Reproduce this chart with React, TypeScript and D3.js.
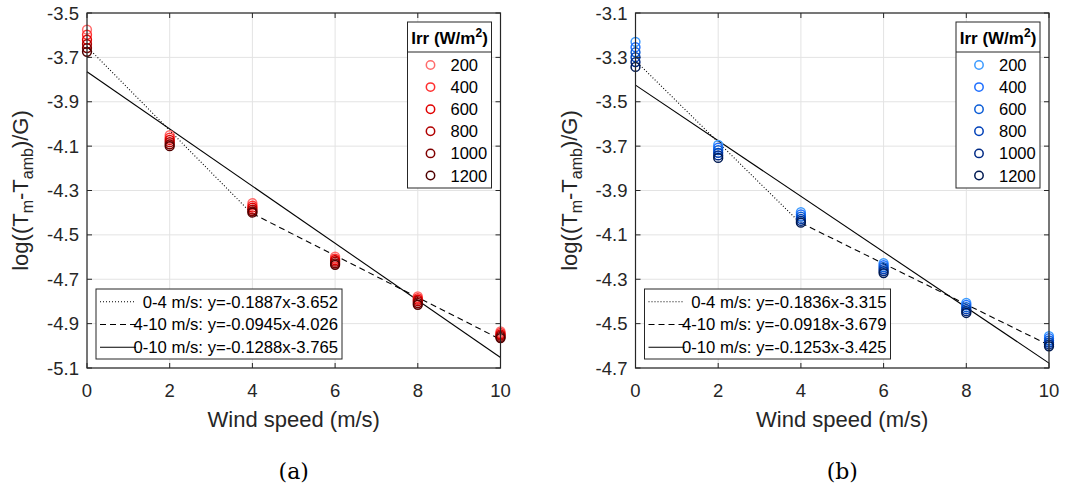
import React from "react";
import * as d3 from "d3";

const windSpeeds = [0, 2, 4, 6, 8, 10];
const irrLevels = ["200", "400", "600", "800", "1000", "1200"];

const redColors = ["#ff6b6b", "#ff3030", "#e00000", "#b00000", "#800000", "#500000"];
const blueColors = ["#3d9bff", "#1f6fff", "#0a5cd6", "#0040b8", "#002a85", "#001a52"];

// values[irr][wind]
const valuesA = [
  [-3.575, -4.05, -4.357, -4.598, -4.777, -4.935],
  [-3.598, -4.062, -4.368, -4.607, -4.785, -4.942],
  [-3.62, -4.072, -4.377, -4.614, -4.792, -4.948],
  [-3.64, -4.082, -4.386, -4.621, -4.799, -4.954],
  [-3.658, -4.092, -4.394, -4.628, -4.807, -4.96],
  [-3.675, -4.1, -4.4, -4.635, -4.815, -4.965],
];
const valuesB = [
  [-3.23, -3.695, -3.998, -4.227, -4.407, -4.556],
  [-3.254, -3.707, -4.008, -4.236, -4.416, -4.566],
  [-3.277, -3.718, -4.018, -4.245, -4.426, -4.576],
  [-3.299, -3.73, -4.028, -4.254, -4.435, -4.585],
  [-3.321, -3.742, -4.037, -4.263, -4.444, -4.594],
  [-3.343, -3.753, -4.045, -4.272, -4.452, -4.602],
];

const fitsA = [
  { label: "0-4 m/s: y=-0.1887x-3.652", slope: -0.1887, icpt: -3.652, x0: 0, x1: 4, dash: "1,2" },
  { label: "4-10 m/s: y=-0.0945x-4.026", slope: -0.0945, icpt: -4.026, x0: 4, x1: 10, dash: "6,4" },
  { label: "0-10 m/s: y=-0.1288x-3.765", slope: -0.1288, icpt: -3.765, x0: 0, x1: 10, dash: "" },
];
const fitsB = [
  { label: "0-4 m/s: y=-0.1836x-3.315", slope: -0.1836, icpt: -3.315, x0: 0, x1: 4, dash: "1,2" },
  { label: "4-10 m/s: y=-0.0918x-3.679", slope: -0.0918, icpt: -3.679, x0: 4, x1: 10, dash: "6,4" },
  { label: "0-10 m/s: y=-0.1253x-3.425", slope: -0.1253, icpt: -3.425, x0: 0, x1: 10, dash: "" },
];

const yTicksA = [-3.5, -3.7, -3.9, -4.1, -4.3, -4.5, -4.7, -4.9, -5.1];
const yTicksB = [-3.1, -3.3, -3.5, -3.7, -3.9, -4.1, -4.3, -4.5, -4.7];
const xTicks = [0, 2, 4, 6, 8, 10];

const FONT = "'Liberation Sans', Arial, Helvetica, sans-serif";

type Fit = { label: string; slope: number; icpt: number; x0: number; x1: number; dash: string };

function Panel(props: {
  left: number;
  right: number;
  yTicks: number[];
  values: number[][];
  colors: string[];
  fits: Fit[];
  caption: string;
}) {
  const { left, right, yTicks, values, colors, fits, caption } = props;
  const top = 13;
  const bottom = 368;
  const x = d3.scaleLinear().domain([0, 10]).range([left, right]);
  const y = d3
    .scaleLinear()
    .domain([yTicks[yTicks.length - 1], yTicks[0]])
    .range([bottom, top]);
  const axisColor = "#262626";
  const tickLen = 5;
  const line = d3.line<number>();

  const legX0 = right - 93;
  const legX1 = right - 9;
  const legY0 = 22;
  const legTitleBottom = 52;
  const legY1 = 188;
  const rowH = 22.1;

  const bl0 = left + 9;
  const bl1 = left + 255;
  const blY0 = 289;
  const blY1 = 359;
  const blRow = 22.8;

  return (
    <g>
      {xTicks.map((t) => (
        <line key={"gx" + t} x1={x(t)} x2={x(t)} y1={top} y2={bottom} stroke="#e3e3e3" strokeWidth={1} />
      ))}
      {yTicks.map((t) => (
        <line key={"gy" + t} x1={left} x2={right} y1={y(t)} y2={y(t)} stroke="#e3e3e3" strokeWidth={1} />
      ))}
      {fits.map((f, i) => (
        <path
          key={"f" + i}
          d={line.x((d) => x(d)).y((d) => y(f.slope * d + f.icpt))([f.x0, f.x1]) || ""}
          stroke="#000"
          strokeWidth={1.1}
          strokeDasharray={f.dash || undefined}
          fill="none"
        />
      ))}
      {values.map((row, i) =>
        row.map((v, j) => (
          <circle
            key={"p" + i + "-" + j}
            cx={x(windSpeeds[j])}
            cy={y(v)}
            r={4.4}
            fill="none"
            stroke={colors[i]}
            strokeWidth={1.5}
          />
        ))
      )}
      <rect x={left} y={top} width={right - left} height={bottom - top} fill="none" stroke={axisColor} strokeWidth={1.2} />
      {xTicks.map((t) => (
        <g key={"xt" + t}>
          <line x1={x(t)} x2={x(t)} y1={bottom} y2={bottom - tickLen} stroke={axisColor} />
          <line x1={x(t)} x2={x(t)} y1={top} y2={top + tickLen} stroke={axisColor} />
          <text x={x(t)} y={bottom + 29} textAnchor="middle" fontSize={18.5} fontFamily={FONT} fill="#262626">
            {t}
          </text>
        </g>
      ))}
      {yTicks.map((t) => (
        <g key={"yt" + t}>
          <line x1={left} x2={left + tickLen} y1={y(t)} y2={y(t)} stroke={axisColor} />
          <line x1={right} x2={right - tickLen} y1={y(t)} y2={y(t)} stroke={axisColor} />
          <text x={left - 8} y={y(t) + 6.5} textAnchor="end" fontSize={18.5} fontFamily={FONT} fill="#262626">
            {t.toFixed(1)}
          </text>
        </g>
      ))}
      <text
        x={(left + right) / 2}
        y={bottom + 59}
        textAnchor="middle"
        fontSize={22}
        fontFamily={FONT}
        fill="#262626"
      >
        Wind speed (m/s)
      </text>
      <text
        transform={`translate(${left - 59},${(top + bottom) / 2}) rotate(-90)`}
        textAnchor="middle"
        fontSize={22}
        fontFamily={FONT}
        fill="#262626"
      >
        log((T
        <tspan fontSize={16} dy={5}>m</tspan>
        <tspan dy={-5}>-T</tspan>
        <tspan fontSize={16} dy={5}>amb</tspan>
        <tspan dy={-5}>)/G)</tspan>
      </text>
      <text
        x={(left + right) / 2}
        y={479}
        textAnchor="middle"
        fontSize={22}
        fontFamily="'DejaVu Serif', 'Liberation Serif', serif"
        fill="#000"
      >
        {caption}
      </text>
      <rect x={legX0} y={legY0} width={legX1 - legX0} height={legY1 - legY0} fill="#fff" stroke={axisColor} strokeWidth={1} />
      <line x1={legX0} x2={legX1} y1={legTitleBottom} y2={legTitleBottom} stroke={axisColor} strokeWidth={1} />
      <text x={(legX0 + legX1) / 2} y={legY0 + 22} textAnchor="middle" fontSize={17} fontWeight="bold" fontFamily={FONT} fill="#000">
        Irr (W/m
        <tspan fontSize={12} dy={-7}>2</tspan>
        <tspan dy={7}>)</tspan>
      </text>
      {irrLevels.map((lv, i) => (
        <g key={"lg" + lv}>
          <circle cx={legX0 + 23} cy={legTitleBottom + 13 + i * rowH} r={4.2} fill="none" stroke={colors[i]} strokeWidth={1.5} />
          <text x={legX0 + 43} y={legTitleBottom + 19 + i * rowH} fontSize={16.5} fontFamily={FONT} fill="#000">
            {lv}
          </text>
        </g>
      ))}
      <rect x={bl0} y={blY0} width={bl1 - bl0} height={blY1 - blY0} fill="#fff" stroke={axisColor} strokeWidth={1} />
      {fits.map((f, i) => (
        <g key={"bl" + i}>
          <line
            x1={bl0 + 4}
            x2={bl0 + 40}
            y1={blY0 + 12.7 + i * blRow}
            y2={blY0 + 12.7 + i * blRow}
            stroke="#000"
            strokeWidth={1.1}
            strokeDasharray={f.dash || undefined}
          />
          <text x={bl1 - 4} y={blY0 + 18.5 + i * blRow} textAnchor="end" fontSize={16.7} fontFamily={FONT} fill="#000">
            {f.label}
          </text>
        </g>
      ))}
    </g>
  );
}

export default function App() {
  return (
    <svg width={1081} height={494} style={{ position: "absolute", left: 0, top: 0, background: "#fff" }}>
      <rect x={0} y={0} width={1081} height={494} fill="#fff" />
      <Panel left={87} right={500.5} yTicks={yTicksA} values={valuesA} colors={redColors} fits={fitsA} caption="(a)" />
      <Panel left={635.5} right={1049} yTicks={yTicksB} values={valuesB} colors={blueColors} fits={fitsB} caption="(b)" />
    </svg>
  );
}
